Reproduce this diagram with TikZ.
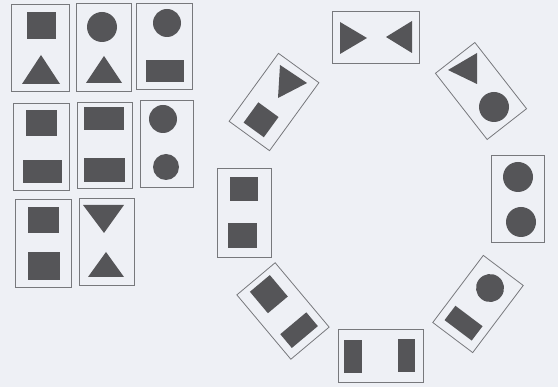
\documentclass[tikz,border=0pt]{standalone}
\usepackage{xcolor}
\usepackage{tikz}
\definecolor{paperbg}{HTML}{EEF0F5}
\definecolor{inkgray}{HTML}{555558}
\definecolor{edgegray}{HTML}{77787C}

\begin{document}
\begin{tikzpicture}[x=1pt, y=-1pt,
    card/.style={draw=edgegray, line width=0.8pt},
    ink/.style={fill=inkgray}]
  \fill[paperbg] (0,0) rectangle (558,387);
  \useasboundingbox (0,0) rectangle (558,387);
  % left grid, row 1
  \draw[card] (11,4) rectangle (69,91);
  \fill[ink] (27,12) rectangle (56,39);
  \fill[ink] (22,84) -- (60,84) -- (41,55) -- cycle;
  \draw[card] (76,3) rectangle (131,91);
  \fill[ink] (102,27) circle (15);
  \fill[ink] (86,83) -- (122,83) -- (104,56) -- cycle;
  \draw[card] (136,3) rectangle (192,89);
  \fill[ink] (167,23) circle (14);
  \fill[ink] (146,60) rectangle (184,82);
  % left grid, row 2
  \draw[card] (13,103) rectangle (69,190);
  \fill[ink] (26,110) rectangle (57,136);
  \fill[ink] (23,160) rectangle (62,183);
  \draw[card] (77,102) rectangle (132,188);
  \fill[ink] (84,107) rectangle (124,130);
  \fill[ink] (84,158) rectangle (125,182);
  \draw[card] (140,100) rectangle (193,187);
  \fill[ink] (163,119) circle (14);
  \fill[ink] (166,167) circle (13);
  % left grid, row 3
  \draw[card] (15,199) rectangle (71,287);
  \fill[ink] (28,207) rectangle (59,233);
  \fill[ink] (28,252) rectangle (60,280);
  \draw[card] (79,198) rectangle (134,285);
  \fill[ink] (83,205) -- (124,205) -- (104,233) -- cycle;
  \fill[ink] (88,277) -- (124,277) -- (106,252) -- cycle;
  % ring: top
  \draw[card] (332,11) rectangle (419,63);
  \fill[ink] (340,22) -- (340,54) -- (367,38) -- cycle;
  \fill[ink] (412,21) -- (412,53) -- (386,37) -- cycle;
  % ring: top right
  \begin{scope}[shift={(481,91)}, rotate=38]
    \draw[card] (-25,-42) rectangle (25,42);
  \end{scope}
  \fill[ink] (477,53) -- (448,70) -- (477,84) -- cycle;
  \fill[ink] (494,107) circle (15);
  % ring: right
  \draw[card] (491,155) rectangle (544,242);
  \fill[ink] (518,177) circle (15);
  \fill[ink] (521,222) circle (15);
  % ring: bottom right
  \begin{scope}[shift={(478,304)}, rotate=-37]
    \draw[card] (-25,-42) rectangle (25,42);
    \fill[ink] (0,-20) circle (14);
    \fill[ink] (-17,15) rectangle (17,33);
  \end{scope}
  % ring: bottom
  \draw[card] (338,329) rectangle (423,382);
  \fill[ink] (344,340) rectangle (362,373);
  \fill[ink] (398,339) rectangle (415,372);
  % ring: bottom left
  \begin{scope}[shift={(283,311)}, rotate=40]
    \draw[card] (-25,-42) rectangle (25,42);
    \fill[ink] (-13,-36) rectangle (13,-8);
    \fill[ink] (-17,16) rectangle (17,34);
  \end{scope}
  % ring: left
  \draw[card] (217,168) rectangle (271,257);
  \fill[ink] (230,177) rectangle (258,201);
  \fill[ink] (228,223) rectangle (257,248);
  % ring: top left
  \begin{scope}[shift={(274,102)}, rotate=-36]
    \draw[card] (-25,-42) rectangle (25,42);
    \fill[ink] (-12.5,9.5) rectangle (12.5,34.5);
  \end{scope}
  \fill[ink] (280,65) -- (307,83) -- (278,98) -- cycle;
\end{tikzpicture}
\end{document}
